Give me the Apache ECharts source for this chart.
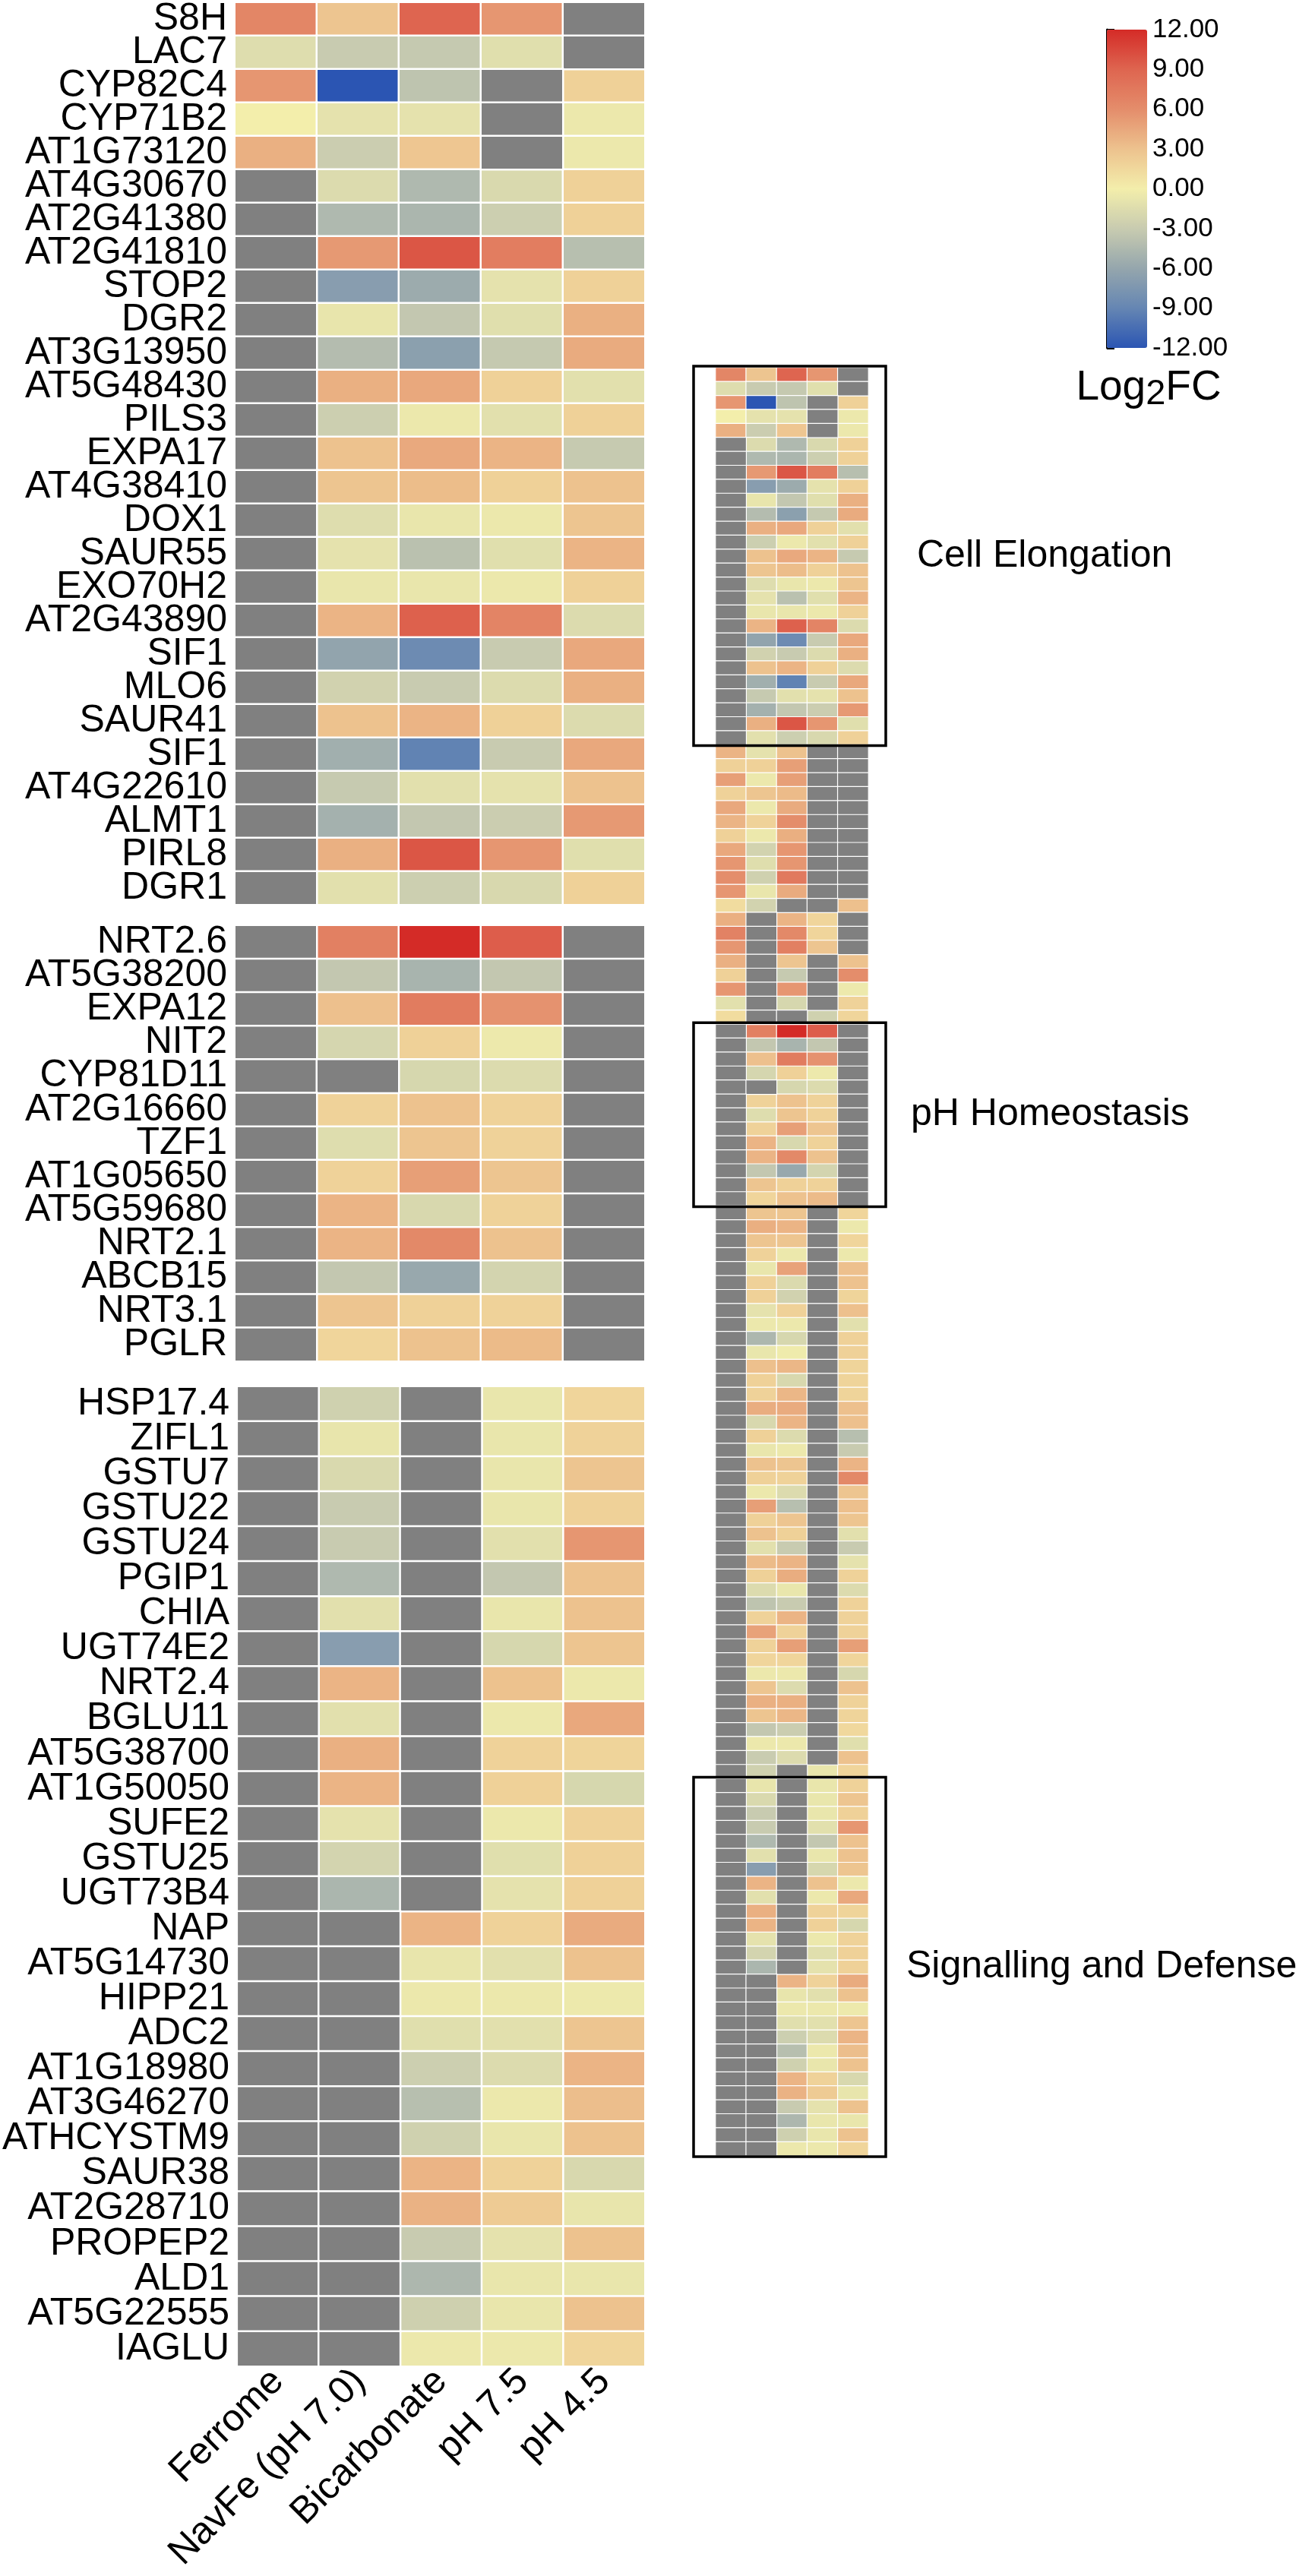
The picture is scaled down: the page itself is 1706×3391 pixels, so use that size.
<!DOCTYPE html>
<html lang="en">

<head>
    <meta charset="UTF-8">
    <title>Log2FC heatmap</title>
    <script src="https://cdn.jsdelivr.net/npm/echarts@6/dist/echarts.min.js"></script>
    <style>
        body { margin: 0; background: #fff; }
    </style>
</head>

<body>
    <div id="main" style="width: 1706px; height: 3391px;"></div>
    <script>
        // columns of every heatmap
        var conditions = ['Ferrome', 'NavFe (pH 7.0)', 'Bicarbonate', 'pH 7.5', 'pH 4.5'];

        // null = no value (grey cell)
        var elongGenes = ['S8H', 'LAC7', 'CYP82C4', 'CYP71B2', 'AT1G73120', 'AT4G30670', 'AT2G41380',
            'AT2G41810', 'STOP2', 'DGR2', 'AT3G13950', 'AT5G48430', 'PILS3', 'EXPA17', 'AT4G38410',
            'DOX1', 'SAUR55', 'EXO70H2', 'AT2G43890', 'SIF1', 'MLO6', 'SAUR41', 'SIF1', 'AT4G22610',
            'ALMT1', 'PIRL8', 'DGR1'];
        var elongValues = [
            [6.5, 2.8, 9, 5.5, null],
            [-1.5, -3, -3.2, -1.3, null],
            [5.5, -12, -3.6, null, 2],
            [0, -1, -1, null, -0.5],
            [4, -2.8, 2.7, null, -0.5],
            [null, -1.6, -4.5, -1.8, 2],
            [null, -4.5, -4.7, -2.7, 2],
            [null, 5.3, 9.8, 7.2, -4],
            [null, -6.8, -5.6, -1, 2],
            [null, -0.8, -3.3, -1.3, 4],
            [null, -4.2, -6.6, -3.2, 4.3],
            [null, 4, 4.5, 2, -1.2],
            [null, -2.7, -0.5, -1.2, 2],
            [null, 3, 4.4, 3.8, -3.1],
            [null, 2.8, 3.3, 2, 3],
            [null, -1.5, -0.7, -0.5, 2.8],
            [null, -1, -3.8, -1.3, 3.8],
            [null, -0.7, -0.7, -0.5, 2],
            [null, 3.8, 9.2, 6.7, -1.6],
            [null, -6.2, -8.5, -3, 4.5],
            [null, -2.4, -3, -1.6, 4],
            [null, 3, 3.8, 2, -1.6],
            [null, -5.3, -9.2, -3, 4.5],
            [null, -3.1, -1.2, -1, 3],
            [null, -5.1, -3.3, -2.8, 5.3],
            [null, 4, 9.8, 5.5, -1.3],
            [null, -1.2, -2.7, -1.9, 2]
        ];

        var phGenes = ['NRT2.6', 'AT5G38200', 'EXPA12', 'NIT2', 'CYP81D11', 'AT2G16660', 'TZF1',
            'AT1G05650', 'AT5G59680', 'NRT2.1', 'ABCB15', 'NRT3.1', 'PGLR'];
        var phValues = [
            [null, 7, 12, 9.4, null],
            [null, -3.3, -4.9, -3.3, null],
            [null, 3.1, 7.3, 5.7, null],
            [null, -2.1, 2, -0.4, null],
            [null, null, -2, -1.6, null],
            [null, 1.9, 3, 1.9, null],
            [null, -1.5, 2.8, 1.9, null],
            [null, 1.9, 5, 2.8, null],
            [null, 3.8, -1.9, 1.9, null],
            [null, 3.8, 6.3, 3, null],
            [null, -3.3, -5.8, -2.2, null],
            [null, 2.8, 2, 1.9, null],
            [null, 1.7, 3, 3.4, null]
        ];

        var defenseGenes = ['HSP17.4', 'ZIFL1', 'GSTU7', 'GSTU22', 'GSTU24', 'PGIP1', 'CHIA', 'UGT74E2',
            'NRT2.4', 'BGLU11', 'AT5G38700', 'AT1G50050', 'SUFE2', 'GSTU25', 'UGT73B4', 'NAP',
            'AT5G14730', 'HIPP21', 'ADC2', 'AT1G18980', 'AT3G46270', 'ATHCYSTM9', 'SAUR38',
            'AT2G28710', 'PROPEP2', 'ALD1', 'AT5G22555', 'IAGLU'];
        var defenseValues = [
            [null, -2.5, null, -0.7, 1.7],
            [null, -0.8, null, -0.7, 1.9],
            [null, -1.8, null, -0.7, 2.8],
            [null, -3, null, -0.7, 2],
            [null, -3, null, -1.2, 5.5],
            [null, -4.5, null, -3.3, 3],
            [null, -1.2, null, -0.7, 3],
            [null, -6.8, null, -2, 2.8],
            [null, 3.8, null, 3, -0.5],
            [null, -1.2, null, -0.5, 4.5],
            [null, 4, null, 1.9, 1.8],
            [null, 3.8, null, 2, -2],
            [null, -1, null, -0.5, 1.9],
            [null, -2.2, null, -1.3, 2],
            [null, -4.7, null, -1, 2],
            [null, null, 3.8, 1.9, 4.3],
            [null, null, -0.8, -1.2, 3],
            [null, null, -0.5, -0.5, -0.4],
            [null, null, -1.3, -1.2, 2.8],
            [null, null, -2.7, -1.6, 3.8],
            [null, null, -4, -0.5, 3.2],
            [null, null, -2.5, -0.7, 3],
            [null, null, 3.8, 1.9, -1.9],
            [null, null, 3.9, 2.4, -0.8],
            [null, null, -3, -1, 3],
            [null, null, -4.6, -0.7, -0.7],
            [null, null, -2.6, -0.7, 3],
            [null, null, -0.5, -0.5, 1.7]
        ];

        // unlabelled rows of the overview strip
        var otherValuesA = [
            [3.8, -1, 3, null, null],
            [2, 2, 5, null, null],
            [5, -0.5, 5, null, null],
            [1.9, 2.8, 3.4, null, null],
            [4.5, -0.5, 4.3, null, null],
            [3.8, 1.9, 6, null, null],
            [2, -0.5, 4.1, null, null],
            [4.5, -2.3, 5.5, null, null],
            [5.5, -1.4, 5.5, null, null],
            [6, -2.5, 7.5, null, null],
            [5.5, -0.7, 4.3, null, null],
            [1.2, -2.3, null, null, 3.1],
            [4.1, null, 3.8, 1.7, null],
            [6.8, null, 6.3, 1.7, null],
            [5.5, null, 7, 2.8, null],
            [4, null, 2.8, null, 3],
            [2, null, -3.1, null, 6],
            [5.5, null, 5.5, null, -0.4],
            [-1.2, null, -2, null, 1.9],
            [1.2, null, null, -2.5, 1.7]
        ];
        var otherValuesB = [
            [null, 2.8, 2.8, null, 1.7],
            [null, 4.1, 3.8, null, -0.5],
            [null, 2.8, 2.8, null, 1.7],
            [null, 1.9, -0.5, null, -0.5],
            [null, -0.7, 4.8, null, 3.1],
            [null, 2, -1.7, null, 3],
            [null, 2, -2.4, null, 1.8],
            [null, -1, 2, null, 3.1],
            [null, -0.5, -0.5, null, -1.2],
            [null, -4.6, -2, null, 2],
            [null, -0.7, -0.3, null, 2],
            [null, 3.1, 3.6, null, 1.8],
            [null, 2, -1.9, null, 1.8],
            [null, 1.9, 3.6, null, 1.8],
            [null, 4.2, 4.3, null, 3.1],
            [null, -1.9, 3.8, null, 3.1],
            [null, 2, -1.6, null, -4],
            [null, -0.7, -0.5, null, -3],
            [null, 3, 2.8, null, 3.8],
            [null, 2, 1.9, null, 6.3],
            [null, -0.5, -1.6, null, 2.8],
            [null, 5, -4, null, 3.1],
            [null, 2, 2.8, null, 2.8],
            [null, 3, 2, null, -1.2],
            [null, -1.2, -3, null, -3],
            [null, 3.4, 3.8, null, -1],
            [null, 2, 4.2, null, 1.9],
            [null, -1.6, -0.7, null, -1.6],
            [null, -3.6, -3, null, 1.9],
            [null, 1.9, 3.8, null, 1.9],
            [null, 4.8, 1.9, null, 1.9],
            [null, 1.9, 5, null, 5],
            [null, 1.7, 1.7, null, 1.7],
            [null, -0.5, -0.5, null, -2],
            [null, 2.8, -1.6, null, 3],
            [null, 4, 4, null, 1.9],
            [null, 2.8, 3.6, null, 1.8],
            [null, -3.3, -2.8, null, 1.5],
            [null, -0.5, -0.5, null, -1.3],
            [null, -2.9, -1.6, null, 3]
        ];

        var scaleMin = -12, scaleMax = 12, scaleStep = 3;
        var scaleColors = ['#2b55b3', '#6586b3', '#95a6ad', '#c8cbb0', '#f3eeab',
            '#edc28e', '#e48d6b', '#de6550', '#d42b27'];
        var NA_COLOR = '#808080';

        var overviewRows = elongValues.concat(otherValuesA, phValues, otherValuesB, defenseValues);
        var phStart = elongValues.length + otherValuesA.length;
        var defStart = phStart + phValues.length + otherValuesB.length;
        var boxes = [
            { label: 'Cell Elongation', start: 0, end: elongValues.length, textX: 1207 },
            { label: 'pH Homeostasis', start: phStart, end: phStart + phValues.length, textX: 1199 },
            { label: 'Signalling and Defense', start: defStart + 1, end: defStart + defenseValues.length, textX: 1193 }
        ];

        var FONT = "'Liberation Sans', Arial, Helvetica, sans-serif";
        var LABEL_SIZE = 50;
        var mainLeft = 309, mainWidth = 540;
        var mainGrids = [
            { top: -2, height: 1193, genes: elongGenes, rows: elongValues },
            { top: 1218, height: 574, genes: phGenes, rows: phValues },
            { top: 1825, height: 1290, genes: defenseGenes, rows: defenseValues }
        ];
        var ov = { left: 942, width: 201, top: 484, pitch: 18.39 };

        function splitCells(rows) {
            var vals = [], na = [];
            rows.forEach(function (r, y) {
                r.forEach(function (v, x) {
                    if (v === null) na.push([x, y, 0]);
                    else vals.push([x, y, v]);
                });
            });
            return { vals: vals, na: na };
        }

        var grid = [], xAxis = [], yAxis = [], series = [], colorSeries = [];

        function addHeatmap(gi, rows, border) {
            var c = splitCells(rows);
            colorSeries.push(series.length);
            series.push({
                type: 'heatmap', xAxisIndex: gi, yAxisIndex: gi, data: c.vals,
                itemStyle: { borderColor: '#fff', borderWidth: border },
                emphasis: { disabled: true }
            });
            series.push({
                type: 'heatmap', xAxisIndex: gi, yAxisIndex: gi, data: c.na,
                itemStyle: { color: NA_COLOR, borderColor: '#fff', borderWidth: border },
                emphasis: { disabled: true }
            });
        }

        mainGrids.forEach(function (g, i) {
            var last = i === mainGrids.length - 1;
            grid.push({ left: mainLeft, width: mainWidth, top: g.top, height: g.height });
            xAxis.push({
                type: 'category', gridIndex: i, data: conditions, show: last,
                axisLine: { show: false }, axisTick: { show: false }, splitLine: { show: false },
                axisLabel: { show: last, rotate: 45, interval: 0, margin: 12, fontSize: LABEL_SIZE, color: '#000', fontFamily: FONT }
            });
            yAxis.push({
                type: 'category', gridIndex: i, data: g.genes, inverse: true,
                axisLine: { show: false }, axisTick: { show: false }, splitLine: { show: false },
                axisLabel: { interval: 0, margin: 10, fontSize: LABEL_SIZE, color: '#000', fontFamily: FONT }
            });
            addHeatmap(i, g.rows, 2.5);
        });

        // overview strip
        grid.push({ left: ov.left, width: ov.width, top: ov.top, height: ov.pitch * overviewRows.length });
        xAxis.push({ type: 'category', gridIndex: 3, data: conditions, show: false });
        yAxis.push({ type: 'category', gridIndex: 3, data: overviewRows.map(function (r, i) { return i; }), inverse: true, show: false });
        addHeatmap(3, overviewRows, 1.2);

        // axis beside the colour bar
        grid.push({ left: 1457, top: 39, width: 53, height: 419 });
        xAxis.push({ type: 'value', gridIndex: 4, show: false });
        yAxis.push({
            type: 'value', gridIndex: 4, position: 'right', min: scaleMin, max: scaleMax, interval: scaleStep,
            axisLine: { show: true, lineStyle: { color: '#000', width: 3 } },
            axisTick: { show: true, length: 10, lineStyle: { color: '#000', width: 3 } },
            splitLine: { show: false },
            axisLabel: { margin: 7, fontSize: 35, color: '#000', fontFamily: FONT, formatter: function (v) { return v.toFixed(2); } }
        });

        var graphic = [];
        boxes.forEach(function (b) {
            var y1 = ov.top + b.start * ov.pitch - 2;
            var y2 = ov.top + b.end * ov.pitch + 1;
            graphic.push({
                type: 'rect', shape: { x: 913, y: y1, width: 253, height: y2 - y1 },
                style: { fill: 'none', stroke: '#000', lineWidth: 3.5 }, z: 10
            });
            graphic.push({
                type: 'text', x: b.textX, y: (y1 + y2) / 2,
                style: { text: b.label, fontSize: LABEL_SIZE, fontFamily: FONT, fill: '#000', verticalAlign: 'middle', align: 'left' }
            });
        });
        graphic.push({
            type: 'text', x: 1512, y: 511,
            style: {
                text: '{a|Log}{b|2}{a|FC}', align: 'center', verticalAlign: 'middle',
                rich: {
                    a: { fontSize: 55, fontFamily: FONT, fill: '#000', lineHeight: 64 },
                    b: { fontSize: 47, fontFamily: FONT, fill: '#000', lineHeight: 30, verticalAlign: 'bottom' }
                }
            }
        });

        var chartDom = document.getElementById('main');
        var myChart = echarts.init(chartDom);
        var option = {
            animation: false,
            backgroundColor: '#fff',
            textStyle: { fontFamily: FONT },
            grid: grid,
            xAxis: xAxis,
            yAxis: yAxis,
            visualMap: {
                type: 'continuous', min: scaleMin, max: scaleMax, seriesIndex: colorSeries,
                calculable: false, realtime: false, hoverLink: false,
                orient: 'vertical', left: 1457, top: 39, padding: 0,
                itemWidth: 53, itemHeight: 419,
                inRange: { color: scaleColors }
            },
            graphic: graphic,
            series: series
        };
        myChart.setOption(option);
    </script>
</body>

</html>
